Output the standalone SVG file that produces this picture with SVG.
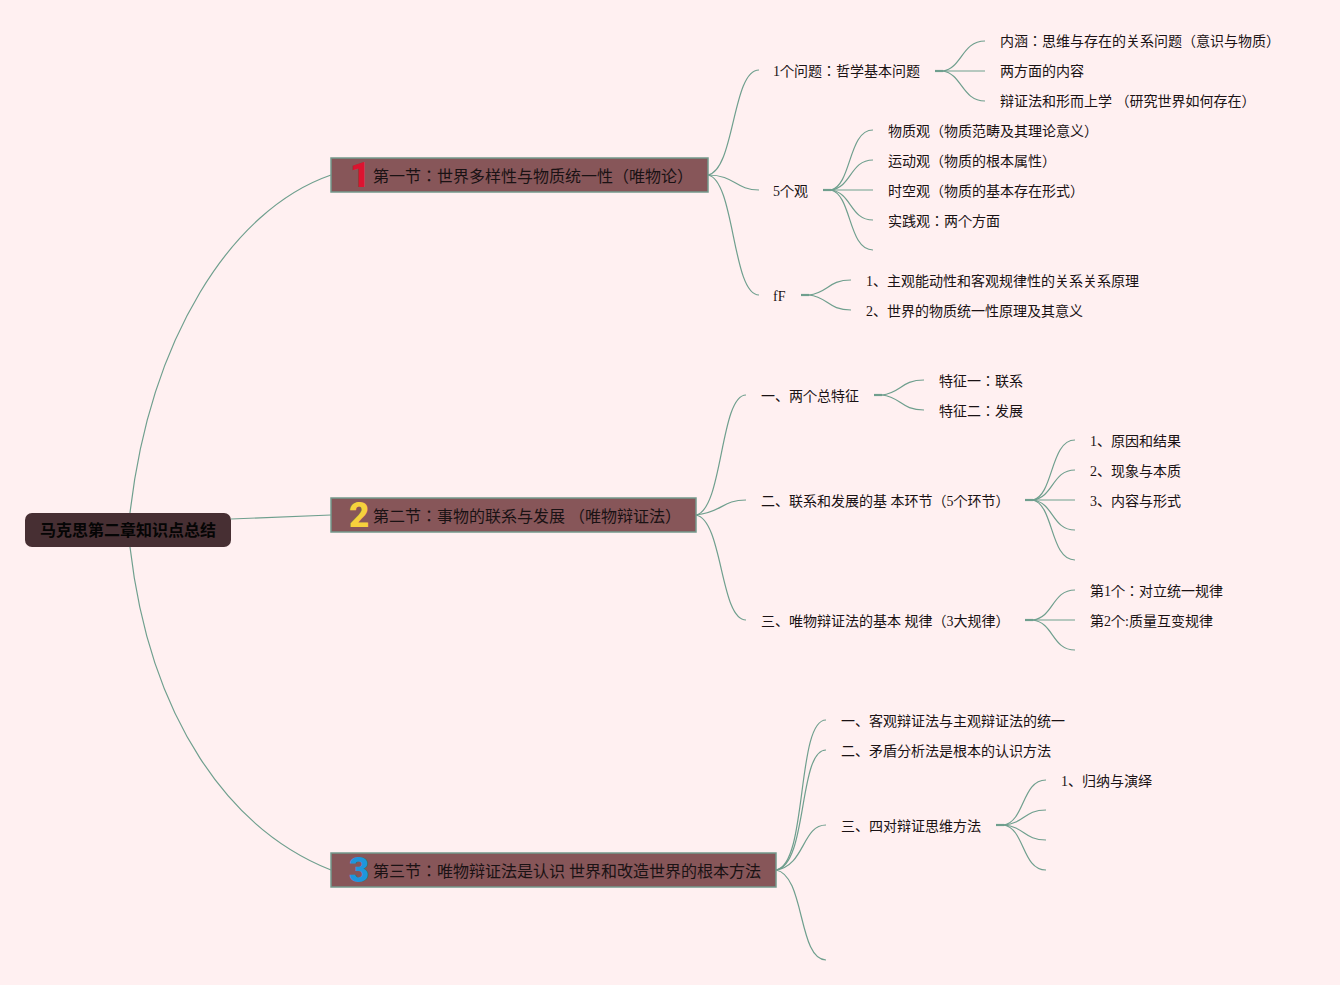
<svg xmlns="http://www.w3.org/2000/svg" width="1340" height="985" viewBox="0 0 1340 985">
<style>
text{font-family:"Liberation Serif","Noto Sans CJK JP",serif;fill:#1a1214}
.t{font-size:14px}
.m{font-size:16px}
.r{font-size:16px;font-weight:700;fill:#050505}
.n{font-family:Roboto,"Liberation Sans",sans-serif;font-size:35px;font-weight:900}
.box{fill:#875659;stroke:#74998c;stroke-width:1.5}
.root{fill:#472f33}
#connectors path{fill:none;stroke:#6f9f8e;stroke-width:1.2}
#connectors .h{stroke-width:2.2}
</style>
<rect width="1340" height="985" fill="#fff0f1"/>
<g id="connectors">
<path d="M130 513C150 340 230 210 331 175"/>
<path d="M130 547C150 720 230 830 331 870"/>
<path d="M231 519L331 515"/>
<path d="M708 175C735 170 732 70 759 70"/>
<path d="M708 175C735 175 735 190 759 190"/>
<path d="M708 175C735 180 732 295 759 295"/>
<path class="h" d="M935 71H943"/>
<path d="M943 71C962 68 962 41 985 41"/>
<path d="M943 71H985"/>
<path d="M943 71C962 74 962 101 985 101"/>
<path class="h" d="M823 190H831"/>
<path d="M831 190C852 185 848 130 873 130"/>
<path d="M831 190C852 187 850 160 873 160"/>
<path d="M831 190H873"/>
<path d="M831 190C852 193 850 220 873 220"/>
<path d="M831 190C852 195 848 250 873 250"/>
<path class="h" d="M801 295H809"/>
<path d="M809 295C828 293 828 280 851 280"/>
<path d="M809 295C828 297 828 310 851 310"/>
<path d="M696 515C723 510 720 395 746 395"/>
<path d="M696 515C723 512 722 500 746 500"/>
<path d="M696 515C723 520 720 620 746 620"/>
<path class="h" d="M874 395H882"/>
<path d="M882 395C901 393 901 380 924 380"/>
<path d="M882 395C901 397 901 410 924 410"/>
<path class="h" d="M1025 500H1033"/>
<path d="M1033 500C1054 495 1050 440 1075 440"/>
<path d="M1033 500C1054 497 1052 470 1075 470"/>
<path d="M1033 500H1075"/>
<path d="M1033 500C1054 503 1052 530 1075 530"/>
<path d="M1033 500C1054 505 1050 560 1075 560"/>
<path class="h" d="M1025 620H1033"/>
<path d="M1033 620C1054 617 1052 590 1075 590"/>
<path d="M1033 620H1075"/>
<path d="M1033 620C1054 623 1052 650 1075 650"/>
<path d="M776 870C808 865 796 720 826 720"/>
<path d="M776 870C808 865 798 750 826 750"/>
<path d="M776 870C805 866 802 825 826 825"/>
<path d="M776 870C805 875 798 960 826 960"/>
<path class="h" d="M996 825H1004"/>
<path d="M1004 825C1025 821 1022 780 1046 780"/>
<path d="M1004 825C1025 823 1024 810 1046 810"/>
<path d="M1004 825C1025 827 1024 840 1046 840"/>
<path d="M1004 825C1025 829 1022 870 1046 870"/>
</g>
<g id="root"><rect class="root" x="25" y="513" width="206" height="34" rx="7"/><text class="r" x="40" y="536">马克思第二章知识点总结</text></g>
<g id="s1"><rect class="box" x="331" y="158" width="377" height="34"/><text class="n" x="350" y="187" style="fill:#dc1430">1</text><text class="m" x="373" y="182">第一节：世界多样性与物质统一性（唯物论）</text></g>
<g id="s2"><rect class="box" x="331" y="498" width="365" height="34"/><text class="n" x="349" y="527" style="fill:#f6d13c">2</text><text class="m" x="373" y="522">第二节：事物的联系与发展 （唯物辩证法）</text></g>
<g id="s3"><rect class="box" x="331" y="853" width="445" height="34"/><text class="n" x="349" y="882" style="fill:#1e96dc">3</text><text class="m" x="373" y="877">第三节：唯物辩证法是认识 世界和改造世界的根本方法</text></g>
<g id="a1"><text class="t" x="773" y="76">1个问题：哲学基本问题</text></g>
<g id="a1a"><text class="t" x="1000" y="46">内涵：思维与存在的关系问题（意识与物质）</text></g>
<g id="a1b"><text class="t" x="1000" y="76">两方面的内容</text></g>
<g id="a1c"><text class="t" x="1000" y="106">辩证法和形而上学 （研究世界如何存在）</text></g>
<g id="a2"><text class="t" x="773" y="196">5个观</text></g>
<g id="a2a"><text class="t" x="888" y="136">物质观（物质范畴及其理论意义）</text></g>
<g id="a2b"><text class="t" x="888" y="166">运动观（物质的根本属性）</text></g>
<g id="a2c"><text class="t" x="888" y="196">时空观（物质的基本存在形式）</text></g>
<g id="a2d"><text class="t" x="888" y="226">实践观：两个方面</text></g>
<g id="a3"><text class="t" x="773" y="301">fF</text></g>
<g id="a3a"><text class="t" x="866" y="286">1、主观能动性和客观规律性的关系关系原理</text></g>
<g id="a3b"><text class="t" x="866" y="316">2、世界的物质统一性原理及其意义</text></g>
<g id="b1"><text class="t" x="761" y="401">一、两个总特征</text></g>
<g id="b1a"><text class="t" x="939" y="386">特征一：联系</text></g>
<g id="b1b"><text class="t" x="939" y="416">特征二：发展</text></g>
<g id="b2"><text class="t" x="761" y="506">二、联系和发展的基 本环节（5个环节）</text></g>
<g id="b2a"><text class="t" x="1090" y="446">1、原因和结果</text></g>
<g id="b2b"><text class="t" x="1090" y="476">2、现象与本质</text></g>
<g id="b2c"><text class="t" x="1090" y="506">3、内容与形式</text></g>
<g id="b3"><text class="t" x="761" y="626">三、唯物辩证法的基本 规律（3大规律）</text></g>
<g id="b3a"><text class="t" x="1090" y="596">第1个：对立统一规律</text></g>
<g id="b3b"><text class="t" x="1090" y="626">第2个:质量互变规律</text></g>
<g id="c1"><text class="t" x="841" y="726">一、客观辩证法与主观辩证法的统一</text></g>
<g id="c2"><text class="t" x="841" y="756">二、矛盾分析法是根本的认识方法</text></g>
<g id="c3"><text class="t" x="841" y="831">三、四对辩证思维方法</text></g>
<g id="c3a"><text class="t" x="1061" y="786">1、归纳与演绎</text></g>
</svg>
